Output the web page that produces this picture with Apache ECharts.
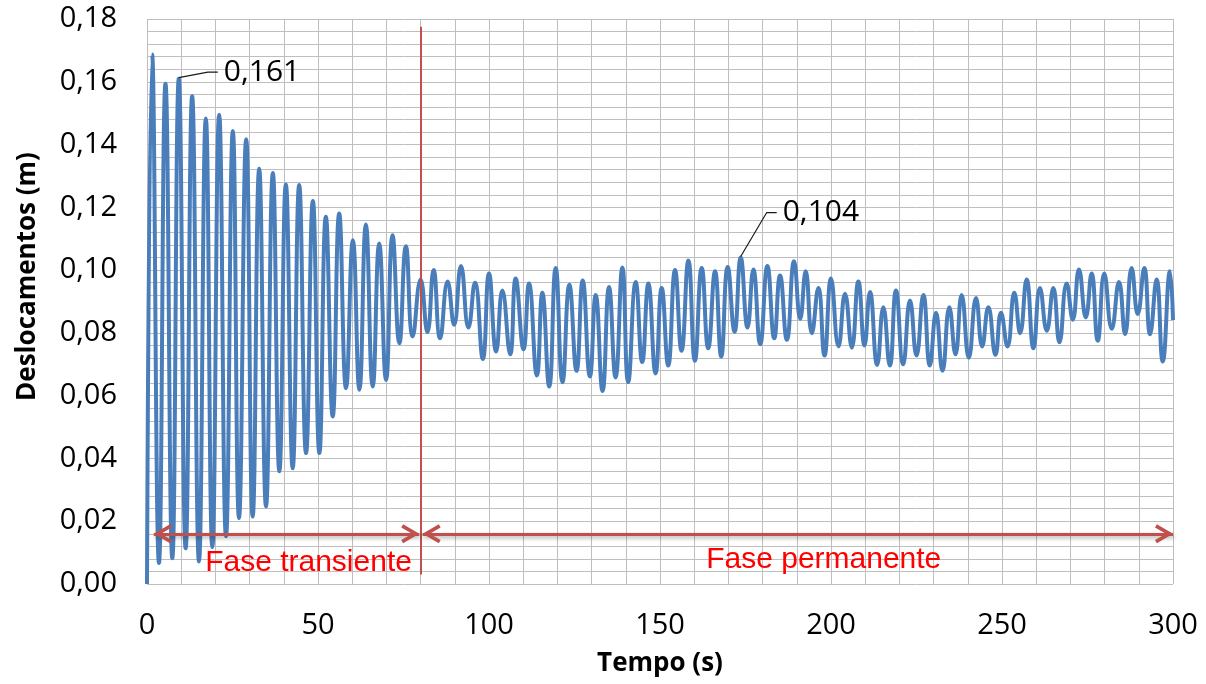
<!DOCTYPE html>
<html>
<head>
<meta charset="utf-8">
<title>Deslocamentos</title>
<script src="https://cdn.jsdelivr.net/npm/echarts@6/dist/echarts.min.js"></script>
<style>
  html, body { margin: 0; padding: 0; background: #ffffff; }
  #chart { width: 1206px; height: 684px; }
</style>
</head>
<body>
<div id="chart"></div>
<script>
// Displacement history, given as the successive crests and troughs of the oscillation.
// Time in seconds, displacement in metres.
const transientTime = [0, 1.5, 3.5, 5.4, 7.4, 9.3, 11.3, 13.2, 15.2, 17.2, 19.1, 21.1, 23.1, 25.1, 26.9,
  29.0, 30.9, 32.8, 34.8, 36.8, 38.7, 40.6, 42.6, 44.5, 46.5, 48.5, 50.4, 52.3, 54.3, 56.2, 58.2,
  60.2, 62.1, 64.0, 66.0, 67.9, 69.9, 71.8, 73.8, 75.7, 77.7];
const transientDisp = [0, 0.1687, 0.0067, 0.1594, 0.0082, 0.161, 0.0114, 0.1554, 0.0072, 0.1483, 0.0117,
  0.1495, 0.0152, 0.1443, 0.0210, 0.1417, 0.0215, 0.1323, 0.0247, 0.1309, 0.0359, 0.1273, 0.0369,
  0.1271, 0.0417, 0.1220, 0.0417, 0.1170, 0.0534, 0.1180, 0.0624, 0.1095, 0.0619, 0.1145, 0.0629,
  0.1085, 0.0650, 0.1111, 0.0767, 0.1076, 0.0789];

const permanentTime = [80.0, 82.0, 83.8, 85.7, 87.9, 89.8, 91.8, 94.0, 95.9, 98.2, 100.0, 102.1, 103.9,
  106.2, 107.8, 110.1, 111.7, 114.0, 115.6, 117.6, 119.5, 121.5, 123.5, 125.6, 127.4, 129.5, 131.2,
  133.2, 135.1, 137.0, 139.0, 140.7, 142.9, 144.8, 146.6, 148.7, 150.5, 152.4, 154.4, 156.3, 158.3,
  160.2, 162.2, 164.1, 166.1, 167.9, 169.8, 171.8, 173.6, 175.6, 177.3, 179.3, 181.4, 183.4, 185.1,
  187.1, 189.2, 191.0, 192.6, 194.4, 196.3, 198.1, 200.0, 202.2, 204.1, 206.1, 208.0, 209.8, 211.4,
  213.5, 215.3, 217.2, 219.0, 221.1, 223.1, 225.0, 227.0, 228.9, 230.7, 232.6, 234.6, 236.4, 238.2,
  240.3, 242.4, 244.2, 246.0, 248.1, 249.7, 251.6, 253.6, 255.3, 257.2, 259.2, 261.1, 263.1, 265.0,
  266.8, 268.9, 270.7, 272.5, 274.5, 276.2, 278.0, 279.9, 282.1, 284.2, 286.0, 287.9, 289.7, 291.6,
  293.3, 295.2, 297.0, 299.1, 300.0];
const permanentDisp = [0.0970, 0.0802, 0.1000, 0.0783, 0.0964, 0.0826, 0.1013, 0.0817, 0.0960, 0.0717,
  0.0989, 0.0741, 0.0935, 0.0732, 0.0973, 0.0748, 0.0957, 0.0664, 0.0928, 0.0629, 0.1007, 0.0643,
  0.0953, 0.0679, 0.0967, 0.0661, 0.0921, 0.0615, 0.0946, 0.0658, 0.1008, 0.0643, 0.0962, 0.0707,
  0.0957, 0.0671, 0.0943, 0.0696, 0.1000, 0.0743, 0.1031, 0.0711, 0.1007, 0.0751, 0.0996, 0.0725,
  0.1010, 0.0804, 0.104, 0.0817, 0.1002, 0.0764, 0.1013, 0.0783, 0.0983, 0.0778, 0.1028, 0.0845,
  0.0996, 0.0799, 0.0943, 0.0728, 0.0973, 0.0757, 0.0925, 0.0753, 0.0964, 0.0760, 0.0930, 0.0698,
  0.0882, 0.0696, 0.0935, 0.0700, 0.0903, 0.0728, 0.0921, 0.0696, 0.0864, 0.0679, 0.0882, 0.0732,
  0.0921, 0.0721, 0.0911, 0.0757, 0.0882, 0.0730, 0.0864, 0.0757, 0.0928, 0.0799, 0.0970, 0.0751,
  0.0943, 0.0807, 0.0943, 0.0770, 0.0957, 0.0842, 0.1002, 0.0849, 0.0989, 0.0775, 0.0989, 0.0813,
  0.0962, 0.0796, 0.1007, 0.0860, 0.1007, 0.0796, 0.0970, 0.0709, 0.0996, 0.0841];

// Crests that carry a value callout (times in s)
const calloutTimes = [9.3, 173.6];

// Axis ranges and tick steps
const timeRange = [0, 300];
const timeStep = 50;
const dispRange = [0, 0.18];
const dispStep = 0.02;

// Boundary between the two phases (s) and their names
const phaseBoundary = 80;
const phaseNames = ['Fase transiente', 'Fase permanente'];

const BLUE = '#4A7EBB';
const DARKRED = '#C0504D';
const GRID = '#BEBEBE';
const LABEL_FONT = '"Open Sans", "Liberation Sans", sans-serif';

const points = transientTime.map((t, i) => [t, transientDisp[i]])
  .concat(permanentTime.map((t, i) => [t, permanentDisp[i]]));

const comma = v => String(v).replace('.', ',');

// Open arrow head, tip at the centre of its box so it lands on the line end
const CHEVRON = 'path://M9,-16.5L9,-16.5M9,0L17.5,15L14.6,16.7L9,6.6L3.4,16.7L0.5,15Z';
const head = coord => ({ coord, symbol: CHEVRON, symbolSize: [19, 36] });
const arrowStyle = {
  color: DARKRED, width: 3, type: 'solid',
  shadowColor: 'rgba(0,0,0,0.35)', shadowBlur: 4, shadowOffsetX: 1, shadowOffsetY: 2
};
const arrowY = 0.016;

const chart = echarts.init(document.getElementById('chart'), null, { renderer: 'canvas' });

chart.setOption({
  animation: false,
  backgroundColor: '#ffffff',
  grid: { left: 147, right: 33, top: 19, bottom: 100 },
  xAxis: {
    type: 'value',
    min: timeRange[0], max: timeRange[1], interval: timeStep,
    name: 'Tempo (s)',
    nameLocation: 'middle',
    nameGap: 67,
    nameTextStyle: { fontFamily: LABEL_FONT, fontWeight: 'bold', fontSize: 26, color: '#000' },
    axisLine: { show: false },
    axisTick: { show: false },
    axisLabel: { fontFamily: LABEL_FONT, fontSize: 29, color: '#000', margin: 27 },
    splitLine: { show: true, lineStyle: { color: GRID, width: 1 } },
    minorTick: { show: false, splitNumber: 5 },
    minorSplitLine: { show: true, lineStyle: { color: GRID, width: 1 } }
  },
  yAxis: {
    type: 'value',
    min: dispRange[0], max: dispRange[1], interval: dispStep,
    name: 'Deslocamentos (m)',
    nameLocation: 'middle',
    nameGap: 106,
    nameTextStyle: { fontFamily: LABEL_FONT, fontWeight: 'bold', fontSize: 26, color: '#000', padding: [0, 0, 0, 50] },
    axisLine: { show: false },
    axisTick: { show: false },
    axisLabel: {
      fontFamily: LABEL_FONT, fontSize: 29, color: '#000', margin: 30,
      formatter: v => v.toFixed(2).replace('.', ',')
    },
    splitLine: { show: true, lineStyle: { color: GRID, width: 1 } },
    minorTick: { show: false, splitNumber: 5 },
    minorSplitLine: { show: true, lineStyle: { color: GRID, width: 1 } }
  },
  series: [
    {
      name: 'Deslocamento',
      type: 'line',
      data: points,
      smooth: 0.5,
      showSymbol: false,
      symbol: 'none',
      lineStyle: { color: BLUE, width: 4 },
      z: 3
    },
    {
      name: 'Fases',
      type: 'line',
      data: [],
      z: 4,
      markLine: {
        silent: true,
        animation: false,
        label: { show: false },
        emphasis: { disabled: true },
        data: [
          [
            { coord: [phaseBoundary, 0.1775], symbol: 'none', lineStyle: { color: DARKRED, width: 2, type: 'solid' } },
            { coord: [phaseBoundary, 0.003], symbol: 'none' }
          ],
          [
            Object.assign(head([2.0, arrowY]), { lineStyle: arrowStyle }),
            head([phaseBoundary - 0.4, arrowY])
          ],
          [
            Object.assign(head([phaseBoundary + 0.6, arrowY]), { lineStyle: arrowStyle }),
            head([timeRange[1], arrowY])
          ]
        ]
      }
    }
  ]
});

// Callouts with leader lines for the marked crests, and the phase captions
const graphics = [];
calloutTimes.forEach((t, k) => {
  const i = permanentTime.indexOf(t) >= 0 ? -1 : transientTime.indexOf(t);
  const v = i >= 0 ? transientDisp[i] : permanentDisp[permanentTime.indexOf(t)];
  const p = chart.convertToPixel({ gridIndex: 0 }, [t, v]);
  const elbow = k === 0 ? [29, -6.5] : [26, -45];
  const run = 10;
  graphics.push({
    type: 'polyline',
    shape: { points: [[p[0], p[1] - 1], [p[0] + elbow[0], p[1] + elbow[1]], [p[0] + elbow[0] + run, p[1] + elbow[1]]] },
    style: { stroke: '#1a1a1a', lineWidth: 1.2, fill: null },
    z: 10
  });
  graphics.push({
    type: 'text',
    x: p[0] + elbow[0] + run + 6,
    y: p[1] + elbow[1],
    style: {
      text: comma(v), fill: '#000', font: '30px ' + LABEL_FONT,
      textAlign: 'left', textVerticalAlign: 'middle'
    },
    z: 10
  });
});

const capY = chart.convertToPixel({ gridIndex: 0 }, [0, 0.0078])[1];
const capT = chart.convertToPixel({ gridIndex: 0 }, [17, 0])[0];
const capP = chart.convertToPixel({ gridIndex: 0 }, [163.5, 0])[0];
graphics.push({
  type: 'text', x: capT, y: capY + 3,
  style: { text: phaseNames[0], fill: '#FF0000', font: '30px "Liberation Sans", Arial, sans-serif', textAlign: 'left', textVerticalAlign: 'middle' },
  z: 10
});
graphics.push({
  type: 'text', x: capP, y: capY,
  style: { text: phaseNames[1], fill: '#FF0000', font: '30px "Liberation Sans", Arial, sans-serif', textAlign: 'left', textVerticalAlign: 'middle' },
  z: 10
});

chart.setOption({ graphic: graphics });
</script>
</body>
</html>
